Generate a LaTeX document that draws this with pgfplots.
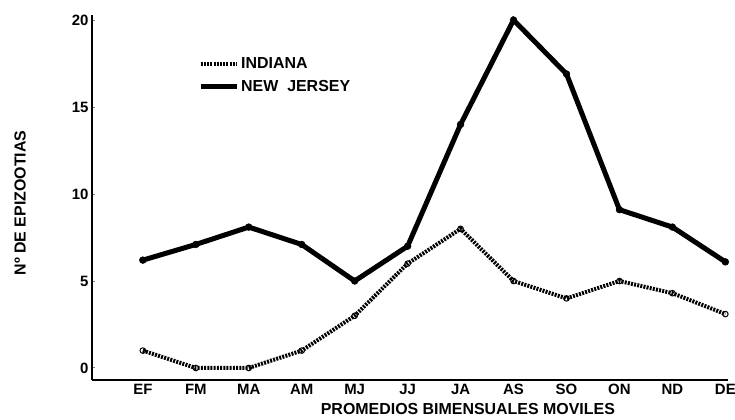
\documentclass[border=0pt]{standalone}
\usepackage{pgfplots}
\pgfplotsset{compat=1.18}
\usepackage{fontspec}
\setmainfont{Liberation Sans}
\begin{document}
\begin{tikzpicture}
\path[use as bounding box] (0,0) rectangle (735bp,420bp);
\begin{axis}[
  at={(92bp,40bp)}, anchor=south west,
  scale only axis, width=636bp, height=365bp,
  xmin=-0.96, xmax=11.05, ymin=-0.69, ymax=20.29,
  axis x line*=bottom, axis y line*=left,
  axis line style={line width=1.5bp, -},
  xtick={0,...,11},
  xticklabels={EF,FM,MA,AM,MJ,JJ,JA,AS,SO,ON,ND,DE},
  x tick style={draw=none},
  ytick={0,5,10,15,20},
  y tick style={line width=1bp},
  major tick length=3bp,
  tick label style={font=\bfseries\fontsize{15}{17}\selectfont},
  xticklabel style={yshift=-1bp},
  /pgf/number format/assume math mode=true,
  xlabel={PROMEDIOS BIMENSUALES MOVILES},
  xlabel style={at={(axis description cs:0.591,-0.08)}, anchor=center, font=\bfseries\fontsize{16}{18}\selectfont},
  ylabel={Nº DE EPIZOOTIAS},
  ylabel style={at={(axis description cs:-0.113,0.485)}, anchor=center, rotate=0, font=\bfseries\fontsize{16}{18}\selectfont},
  legend style={at={(axis description cs:0.162,0.895)}, anchor=north west, draw=none, fill=none,
    font=\bfseries\fontsize{16}{18}\selectfont, row sep=6bp},
  legend cell align=left,
  legend image code/.code={\draw[#1] (0bp,0bp) -- (36bp,0bp);},
]
\addplot[black, line width=4bp, dash pattern=on 2bp off 1.2bp,
  mark=o, mark size=2.8bp, mark options={solid, line width=1bp, fill=white}]
  coordinates {(0,1) (1,0) (2,0) (3,1) (4,3) (5,6) (6,8) (7,5) (8,4) (9,5) (10,4.3) (11,3.1)};
\addlegendentry{INDIANA}
\addplot[black, line width=5bp, mark=*, mark size=3.4bp, mark options={solid, line width=0.5bp}]
  coordinates {(0,6.2) (1,7.1) (2,8.1) (3,7.1) (4,5) (5,7) (6,14) (7,20) (8,16.9) (9,9.1) (10,8.1) (11,6.1)};
\addlegendentry{NEW\ \ JERSEY}
\end{axis}
\end{tikzpicture}
\end{document}
